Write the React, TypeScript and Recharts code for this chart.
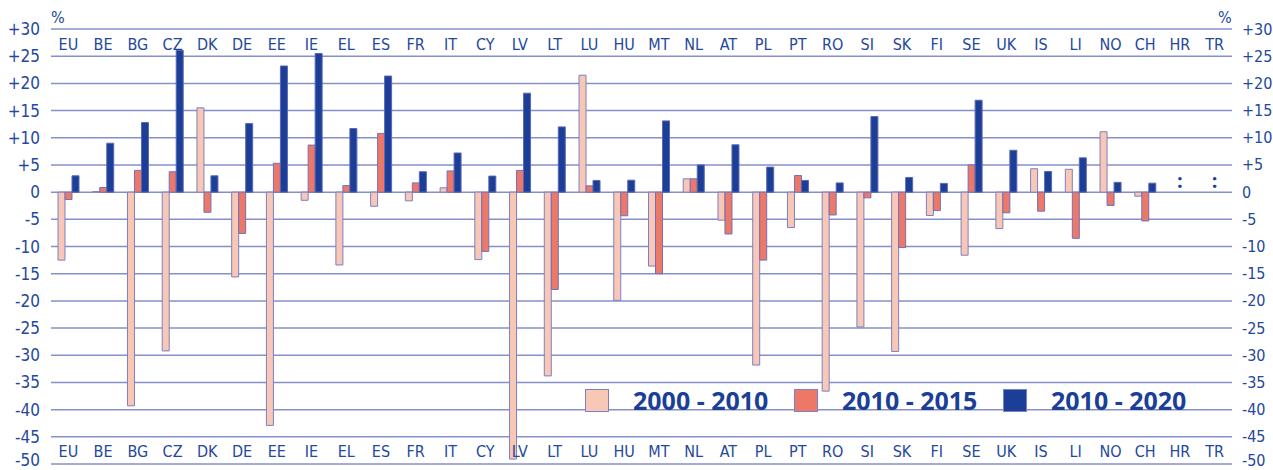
import {
  BarChart,
  Bar,
  XAxis,
  YAxis,
  CartesianGrid,
  ReferenceDot,
} from "recharts";

const countries = [
  "EU", "BE", "BG", "CZ", "DK", "DE", "EE", "IE", "EL", "ES", "FR", "IT",
  "CY", "LV", "LT", "LU", "HU", "MT", "NL", "AT", "PL", "PT", "RO", "SI",
  "SK", "FI", "SE", "UK", "IS", "LI", "NO", "CH", "HR", "TR",
];

const change2000_2010 = [
  -12.5, 0.1, -39.3, -29.2, 15.5, -15.6, -42.9, -1.5, -13.4, -2.6, -1.6, 0.8,
  -12.4, -49.1, -33.8, 21.5, -19.9, -13.6, 2.45, -5.15, -31.8, -6.5, -36.6, -24.8,
  -29.3, -4.3, -11.6, -6.7, 4.3, 4.2, 11.1, -0.75, null, null,
];

const change2010_2015 = [
  -1.35, 0.85, 4.0, 3.75, -3.7, -7.6, 5.3, 8.65, 1.2, 10.8, 1.7, 3.9,
  -10.9, 4.0, -17.9, 1.15, -4.35, -15.0, 2.45, -7.7, -12.5, 3.05, -4.2, -1.05,
  -10.2, -3.4, 5.0, -3.8, -3.5, -8.5, -2.45, -5.3, null, null,
];

const change2010_2020 = [
  3.0, 9.0, 12.8, 26.1, 3.0, 12.6, 23.2, 25.5, 11.7, 21.35, 3.75, 7.2,
  2.95, 18.2, 12.0, 2.15, 2.2, 13.1, 5.0, 8.7, 4.6, 2.15, 1.7, 13.9,
  2.7, 1.6, 16.9, 7.7, 3.8, 6.3, 1.8, 1.65, null, null,
];

const notAvailable = ["HR", "TR"];

const yTicks = [30, 25, 20, 15, 10, 5, 0, -5, -10, -15, -20, -25, -30, -35, -40, -45, -50];

const seriesNames = ["2000 - 2010", "2010 - 2015", "2010 - 2020"];
const seriesColors = ["#f9c7b6", "#ee7867", "#1b3f96"];

const data = countries.map((c, i) => ({
  country: c,
  a: change2000_2010[i],
  b: change2010_2015[i],
  c: change2010_2020[i],
}));

const TEXT = "#24489c";
const FONT = "'DejaVu Sans Condensed', 'Open Sans', sans-serif";

const fmt = (v: number) => (v > 0 ? `+${v}` : `${v}`);

function CountryTick({ x, y, payload, dy }: any) {
  return (
    <text
      x={x}
      y={y + dy}
      textAnchor="middle"
      dominantBaseline="central"
      fill={TEXT}
      fontSize={16}
      fontFamily={FONT}
    >
      {payload.value}
    </text>
  );
}

// value labels on the y axes; the lowest one sits a little higher so it isn't clipped
function ValueTick({ x, y, payload, anchor, size }: any) {
  return (
    <text
      x={x}
      y={Math.min(y, 460)}
      textAnchor={anchor}
      dominantBaseline="central"
      fill={TEXT}
      fontSize={size}
      fontFamily={FONT}
    >
      {fmt(payload.value)}
    </text>
  );
}

function LegendBox() {
  return (
    <div style={{ display: "flex", alignItems: "center" }}>
      {seriesNames.map((n, i) => (
        <div key={n} style={{ display: "flex", alignItems: "center", width: 209 }}>
          <div
            style={{
              width: 22,
              height: 21,
              background: seriesColors[i],
              border: "1px solid #7c80c4",
              marginRight: 24,
            }}
          />
          <span
            style={{
              fontFamily: "'Open Sans', sans-serif",
              fontWeight: 700,
              fontSize: 25,
              color: "#1b3f96",
              whiteSpace: "nowrap",
            }}
          >
            {n}
          </span>
        </div>
      ))}
    </div>
  );
}

export default function App() {
  return (
    <div
      style={{
        position: "absolute",
        left: 0,
        top: 0,
        width: 1273,
        height: 470,
        background: "#fff",
        overflow: "hidden",
      }}
    >
      <div style={{ position: "absolute", left: 51, top: 8, color: TEXT, fontFamily: FONT, fontSize: 16 }}>%</div>
      <div style={{ position: "absolute", left: 1218, top: 8, color: TEXT, fontFamily: FONT, fontSize: 16 }}>%</div>
      <BarChart
        width={1273}
        height={470}
        data={data}
        margin={{ top: 28, right: 0, bottom: 5, left: 0 }}
        barSize={7}
        barGap={0}
      >
        <CartesianGrid vertical={false} stroke="#8590ca" strokeWidth={1.5} yAxisId="left" />
        <XAxis
          xAxisId="top"
          dataKey="country"
          orientation="top"
          height={1}
          axisLine={false}
          tickLine={false}
          tickSize={0}
          tickMargin={0}
          interval={0}
          tick={<CountryTick dy={15} />}
        />
        <XAxis
          xAxisId="bottom"
          dataKey="country"
          orientation="bottom"
          height={1}
          axisLine={false}
          tickLine={false}
          tickSize={0}
          tickMargin={0}
          interval={0}
          tick={<CountryTick dy={-13} />}
        />
        <YAxis
          yAxisId="left"
          domain={[-50, 30]}
          ticks={yTicks}
          interval={0}
          width={51}
          axisLine={false}
          tickLine={false}
          tickSize={0}
          tickMargin={11}
          tick={<ValueTick anchor="end" size={17} />}
          allowDataOverflow
        />
        <YAxis
          yAxisId="right"
          orientation="right"
          domain={[-50, 30]}
          ticks={yTicks}
          interval={0}
          width={41}
          axisLine={false}
          tickLine={false}
          tickSize={0}
          tickMargin={10}
          tick={<ValueTick anchor="start" size={16} />}
          allowDataOverflow
        />
        <Bar dataKey="a" name={seriesNames[0]} xAxisId="top" yAxisId="left" fill={seriesColors[0]} stroke="#7c80c4" strokeWidth={1} isAnimationActive={false} />
        <Bar dataKey="b" name={seriesNames[1]} xAxisId="top" yAxisId="left" fill={seriesColors[1]} stroke="#6f72bb" strokeWidth={1} isAnimationActive={false} />
        <Bar dataKey="c" name={seriesNames[2]} xAxisId="top" yAxisId="left" fill={seriesColors[2]} stroke="#5d66b4" strokeWidth={1} isAnimationActive={false} />
        {notAvailable.map((c) => (
          <ReferenceDot
            key={c}
            x={c}
            y={2}
            xAxisId="top"
            yAxisId="left"
            r={0}
            label={{ value: ":", fill: "#1b3f96", fontSize: 20, fontWeight: 700, fontFamily: "'Open Sans', sans-serif", position: "center" }}
          />
        ))}
      </BarChart>
      <div style={{ position: "absolute", left: 585, top: 383 }}>
        <LegendBox />
      </div>
    </div>
  );
}
